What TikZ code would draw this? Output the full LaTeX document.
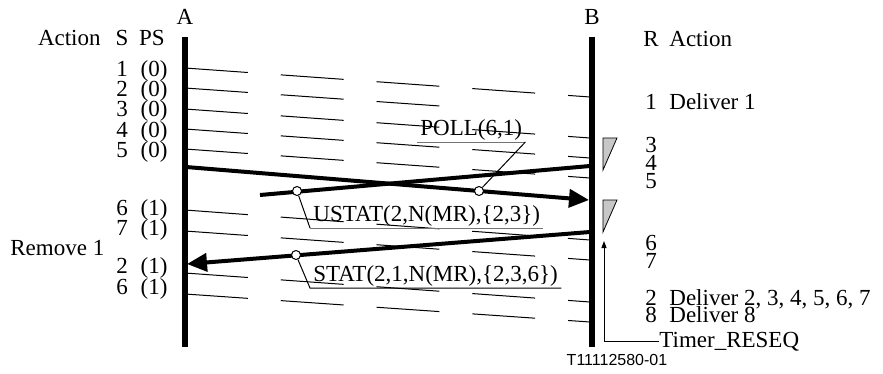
\documentclass[tikz,border=0pt]{standalone}
\usepackage{fontspec}
\setmainfont{Liberation Serif}
\newfontfamily\figidfont{Liberation Sans}
\usetikzlibrary{arrows.meta}

\begin{document}
\begin{tikzpicture}[
      x=0.5pt, y=-0.5pt,
      font=\fontsize{11.5}{12}\selectfont,
      lifeline/.style={line width=2.6pt},
      sdpdu/.style={line width=0.5pt, dash pattern=on 31.5pt off 16.5pt},
      msg/.style={line width=2pt},
      msgarrow/.style={msg, -{Triangle[length=10pt, width=9pt]}},
      tap/.style={circle, draw, fill=white, line width=0.5pt, inner sep=0pt, minimum size=4.5pt},
      pointer/.style={line width=0.5pt},
      pdulabel/.style={inner xsep=1.5pt, inner ysep=0.6pt, anchor=south west},
      gapmark/.style={draw, fill=black!22, line width=0.4pt},
      num/.style={inner sep=0pt, anchor=base},
      act/.style={inner sep=0pt, anchor=base west}
    ]
    \useasboundingbox (0,0) rectangle (883,374);

    % lifelines
    \node[num] (A) at (185,25) {A};
    \node[num] (B) at (592,25) {B};
    \coordinate (A top) at (185,37);
    \coordinate (A bot) at (185,347);
    \coordinate (B top) at (592,37);
    \coordinate (B bot) at (592,347);
    \draw[lifeline] (A top) -- (A bot);
    \draw[lifeline] (B top) -- (B bot);

    % column heads
    \node[act, anchor=base east] (act A) at (101,46) {Action};
    \node[num] (hd S) at (122,46) {S};
    \node[num] (hd PS) at (152,46) {PS};
    \node[num] (hd R) at (651,47) {R};
    \node[act] (act B) at (669,47) {Action};

    % sender side
    \foreach \s/\ps/\y [count=\i] in {1/0/77, 2/0/97, 3/0/117, 4/0/137, 5/0/157,
        6/1/215, 7/1/235, 2/1/273, 6/1/294} {
      \node[num] (s\i) at (122,\y) {\s};
      \node[num] (ps\i) at (154,\y) {(\ps)};
    }
    \node[act] (remove) at (10,255) {Remove 1};

    % SD PDUs
    \foreach \ya/\yb [count=\i] in {68/97, 109/138, 129/158, 149/178,
        210/240, 231/260, 273/302, 294/322} {
      \coordinate (sdA\i) at (185,\ya);
      \coordinate (sdB\i) at (590,\yb);
      \draw[sdpdu] (sdA\i) -- (sdB\i);
    }
    \coordinate (sd2A) at (185,88);
    \coordinate (sd2 lost) at (440,106);
    \draw[sdpdu] (sd2A) -- (sd2 lost);

    % control PDUs
    \coordinate (poll A) at (186,167);
    \coordinate (poll B) at (589,200);
    \draw[msgarrow] (poll A) -- (poll B);
    \coordinate (ustat B) at (590,166);
    \coordinate (ustat lost) at (260,195);
    \draw[msg] (ustat B) -- (ustat lost);
    \coordinate (stat B) at (590,232);
    \coordinate (stat A) at (187,264);
    \draw[msgarrow] (stat B) -- (stat A);

    \node[tap] (poll tap) at (479,191) {};
    \node[tap] (ustat tap) at (297,191) {};
    \node[tap] (stat tap) at (296,255) {};

    \node[pdulabel] (poll lbl) at (417,142) {POLL(6,1)};
    \draw[pointer, black!55] (poll lbl.south west) -- (poll lbl.south east);
    \draw[pointer] (poll lbl.south east) -- (poll tap);
    \node[pdulabel] (ustat lbl) at (310,228) {USTAT(2,N(MR),\{2,3\})};
    \draw[pointer] (ustat tap) -- (ustat lbl.south west);
    \draw[pointer, black!55] (ustat lbl.south west) -- (ustat lbl.south east);
    \node[pdulabel] (stat lbl) at (310,288) {STAT(2,1,N(MR),\{2,3,6\})};
    \draw[pointer] (stat tap) -- (stat lbl.south west) -- (stat lbl.south east);

    % receiver side
    \draw[gapmark] (603,138) -- (617,138) -- (603,170) -- cycle;
    \draw[gapmark] (603,200) -- (617,200) -- (603,232) -- cycle;
    \foreach \r/\txt/\y [count=\i] in {1/Deliver 1/110, 3//152, 4//170, 5//188,
        6//250, 7//268, 2/{Deliver 2, 3, 4, 5, 6, 7}/305, 8/Deliver 8/322} {
      \node[num] (r\i) at (651,\y) {\r};
      \node[act] (ra\i) at (669,\y) {\txt};
    }
    \node[act] (timer) at (659,347) {Timer\_RESEQ};
    \coordinate (timer tip) at (604,241);
    \draw[pointer, -{Triangle[length=3.5pt, width=2.5pt]}] (timer.west) -| (timer tip);

    \node[num, font=\figidfont\fontsize{8}{9}\selectfont] (fig id) at (617,365) {T11112580-01};
    \end{tikzpicture}
\end{document}
